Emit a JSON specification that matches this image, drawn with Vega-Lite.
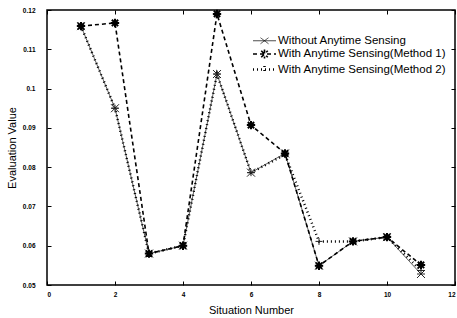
{
  "$schema": "https://vega.github.io/schema/vega-lite/v6.json",
  "width": 408,
  "height": 275,
  "autosize": {"type": "none"},
  "padding": {"left": 47, "top": 10, "right": 2, "bottom": 33},
  "background": "white",
  "config": {
    "font": "Liberation Sans",
    "view": {"stroke": "black", "strokeWidth": 1.5},
    "axis": {"grid": false, "domain": false, "tickColor": "black", "labelColor": "black", "titleColor": "black", "labelFontSize": 6.5, "labelFontWeight": "bold", "titleFontSize": 11, "titleFontWeight": "normal", "tickSize": -4, "tickWidth": 1}
  },
  "data": {
    "values": [
      {"x": 1, "value": 0.1159, "series": "Without Anytime Sensing"},
      {"x": 2, "value": 0.095, "series": "Without Anytime Sensing"},
      {"x": 3, "value": 0.058, "series": "Without Anytime Sensing"},
      {"x": 4, "value": 0.060, "series": "Without Anytime Sensing"},
      {"x": 5, "value": 0.1037, "series": "Without Anytime Sensing"},
      {"x": 6, "value": 0.0786, "series": "Without Anytime Sensing"},
      {"x": 7, "value": 0.0835, "series": "Without Anytime Sensing"},
      {"x": 8, "value": 0.0549, "series": "Without Anytime Sensing"},
      {"x": 9, "value": 0.0611, "series": "Without Anytime Sensing"},
      {"x": 10, "value": 0.0622, "series": "Without Anytime Sensing"},
      {"x": 11, "value": 0.0528, "series": "Without Anytime Sensing"},
      {"x": 1, "value": 0.1159, "series": "With Anytime Sensing(Method 2)"},
      {"x": 2, "value": 0.095, "series": "With Anytime Sensing(Method 2)"},
      {"x": 3, "value": 0.058, "series": "With Anytime Sensing(Method 2)"},
      {"x": 4, "value": 0.060, "series": "With Anytime Sensing(Method 2)"},
      {"x": 5, "value": 0.1037, "series": "With Anytime Sensing(Method 2)"},
      {"x": 6, "value": 0.0786, "series": "With Anytime Sensing(Method 2)"},
      {"x": 7, "value": 0.0832, "series": "With Anytime Sensing(Method 2)"},
      {"x": 8, "value": 0.0611, "series": "With Anytime Sensing(Method 2)"},
      {"x": 9, "value": 0.0611, "series": "With Anytime Sensing(Method 2)"},
      {"x": 10, "value": 0.0622, "series": "With Anytime Sensing(Method 2)"},
      {"x": 11, "value": 0.0537, "series": "With Anytime Sensing(Method 2)"},
      {"x": 1, "value": 0.1159, "series": "With Anytime Sensing(Method 1)"},
      {"x": 2, "value": 0.1167, "series": "With Anytime Sensing(Method 1)"},
      {"x": 3, "value": 0.058, "series": "With Anytime Sensing(Method 1)"},
      {"x": 4, "value": 0.060, "series": "With Anytime Sensing(Method 1)"},
      {"x": 5, "value": 0.119, "series": "With Anytime Sensing(Method 1)"},
      {"x": 6, "value": 0.0907, "series": "With Anytime Sensing(Method 1)"},
      {"x": 7, "value": 0.0835, "series": "With Anytime Sensing(Method 1)"},
      {"x": 8, "value": 0.0549, "series": "With Anytime Sensing(Method 1)"},
      {"x": 9, "value": 0.0611, "series": "With Anytime Sensing(Method 1)"},
      {"x": 10, "value": 0.0622, "series": "With Anytime Sensing(Method 1)"},
      {"x": 11, "value": 0.0551, "series": "With Anytime Sensing(Method 1)"}
    ]
  },
  "layer": [
    {
      "mark": {"type": "line", "opacity": 0},
      "encoding": {
        "x": {"field": "x", "type": "quantitative", "scale": {"domain": [0, 12], "nice": false}, "axis": {"orient": "top", "labels": false, "title": null, "values": [0, 2, 4, 6, 8, 10, 12]}},
        "y": {"field": "value", "type": "quantitative", "scale": {"domain": [0.05, 0.12], "nice": false, "zero": false}, "axis": {"orient": "right", "labels": false, "title": null, "values": [0.05, 0.06, 0.07, 0.08, 0.09, 0.1, 0.11, 0.12]}},
        "detail": {"field": "series"}
      }
    },
    {
      "mark": {"type": "line", "color": "black"},
      "encoding": {
        "x": {"field": "x", "type": "quantitative", "axis": {"orient": "bottom", "title": "Situation Number", "values": [0, 2, 4, 6, 8, 10, 12], "labelPadding": 10, "titlePadding": 7}},
        "y": {"field": "value", "type": "quantitative", "axis": {"orient": "left", "title": "Evaluation Value", "values": [0.05, 0.06, 0.07, 0.08, 0.09, 0.1, 0.11, 0.12], "format": ".2~f", "labelPadding": 16, "titlePadding": 5}},
        "order": {"field": "x"},
        "strokeDash": {
          "field": "series", "type": "nominal",
          "scale": {"domain": ["Without Anytime Sensing", "With Anytime Sensing(Method 1)", "With Anytime Sensing(Method 2)"], "range": [[1, 0], [4, 3], [1, 3]]},
          "legend": {
            "title": null, "orient": "none", "legendX": 211, "legendY": 25,
            "symbolSize": 100, "labelOffset": 7, "labelFontSize": 11.5, "labelColor": "black", "labelLimit": 400, "rowPadding": -1, "padding": 0,
            "symbolStrokeColor": "black", "symbolFillColor": "transparent",
            "encode": {"symbols": {"update": {
              "shape": {"signal": "datum.value === 'Without Anytime Sensing' ? 'M-2.3,0L2.3,0M-0.8,-0.6L0.8,0.6M-0.8,0.6L0.8,-0.6' : datum.value === 'With Anytime Sensing(Method 1)' ? 'M-2.3,0L2.3,0M-0.9,0L0.9,0M0,-0.9L0,0.9M-0.65,-0.65L0.65,0.65M-0.65,0.65L0.65,-0.65' : 'M-2.3,0L2.3,0M0,-0.7L0,0.7'"},
              "strokeWidth": {"signal": "datum.value === 'With Anytime Sensing(Method 1)' ? 2.2 : 0.9"},
              "stroke": {"value": "black"},
              "fill": {"value": "transparent"}
            }}}
          }
        },
        "strokeWidth": {
          "field": "series", "type": "nominal",
          "scale": {"domain": ["Without Anytime Sensing", "With Anytime Sensing(Method 1)", "With Anytime Sensing(Method 2)"], "range": [0.7, 2.5, 0.8]},
          "legend": null
        }
      }
    },
    {
      "transform": [{"filter": "datum.series === 'Without Anytime Sensing'"}],
      "mark": {"type": "point", "filled": false, "color": "#222", "opacity": 1, "shape": "M-1,-1L1,1M-1,1L1,-1M-1,0L1,0", "size": 64, "strokeWidth": 1},
      "encoding": {
        "x": {"field": "x", "type": "quantitative", "axis": null},
        "y": {"field": "value", "type": "quantitative", "axis": null}
      }
    },
    {
      "transform": [{"filter": "datum.series === 'With Anytime Sensing(Method 2)'"}],
      "mark": {"type": "point", "filled": false, "color": "#222", "opacity": 1, "shape": "M-1,0L1,0M0,-1L0,1", "size": 49, "strokeWidth": 1},
      "encoding": {
        "x": {"field": "x", "type": "quantitative", "axis": null},
        "y": {"field": "value", "type": "quantitative", "axis": null}
      }
    },
    {
      "transform": [{"filter": "datum.series === 'With Anytime Sensing(Method 1)'"}],
      "mark": {"type": "point", "filled": false, "color": "black", "opacity": 1, "shape": "M-1,0L1,0M0,-1L0,1M-0.75,-0.75L0.75,0.75M-0.75,0.75L0.75,-0.75", "size": 70, "strokeWidth": 2},
      "encoding": {
        "x": {"field": "x", "type": "quantitative", "axis": null},
        "y": {"field": "value", "type": "quantitative", "axis": null}
      }
    }
  ],
  "resolve": {"axis": {"x": "independent", "y": "independent"}}
}
